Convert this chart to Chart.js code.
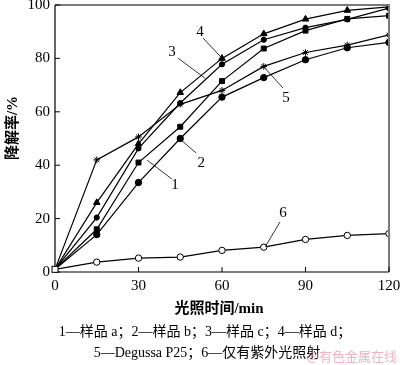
<!DOCTYPE html>
<html>
<head>
<meta charset="utf-8">
<script src="https://cdn.jsdelivr.net/npm/chart.js@4.4.1/dist/chart.umd.min.js"></script>
<style>
  html, body { margin: 0; padding: 0; background: #fff; }
  #chart { display: block; }
</style>
</head>
<body>
<canvas id="chart" width="400" height="365"></canvas>
<script>
// irradiation time (min)
const times = [0, 15, 30, 45, 60, 75, 90, 105, 120];

// degradation rate (%)
const sampleA = [1, 14, 33.5, 50, 65.5, 72.8, 79.5, 84, 86];
const sampleB = [1, 16, 41, 54.4, 71.5, 83.7, 90.4, 94.8, 96];
const sampleC = [1, 20.4, 46.3, 63.3, 77.8, 87, 91.5, 94.6, 98.8];
const sampleD = [1, 26, 48, 67.2, 80, 89.2, 94.7, 98, 99.3];
const degussa = [1, 42, 50.6, 62.8, 68, 77, 82.2, 85, 88.8];
const uvOnly = [1, 3.7, 5.2, 5.6, 8.1, 9.3, 12.2, 13.7, 14.4];

const xTicks = [0, 30, 60, 90, 120];
const yTicks = [0, 20, 40, 60, 80, 100];

// curve number labels with leader lines, in data units
const curveLabels = [
    { text: "1", at: [43.1, 32.6], from: [42.0, 34.8], to: [33.1, 41.9] },
    { text: "2", at: [52.5, 40.8], from: [50.7, 44.6], to: [44.9, 49.8] },
    { text: "3", at: [42.0, 82.4], from: [44.2, 80.1], to: [54.0, 72.5] },
    { text: "4", at: [52.1, 89.9], from: [53.2, 87.6], to: [59.6, 80.5] },
    { text: "5", at: [83.0, 65.2], from: [81.9, 68.9], to: [74.7, 77.2] },
    { text: "6", at: [81.9, 22.1], from: [80.8, 18.7], to: [75.5, 9.4] }
];

const serif = "'Liberation Serif', 'Noto Sans CJK SC', serif";

function points(values) {
    return times.map((t, i) => ({ x: t, y: values[i] }));
}

function series(values, style, radius, fill) {
    return {
        data: points(values),
        borderColor: "#000",
        borderWidth: 1.2,
        backgroundColor: fill,
        pointBackgroundColor: fill,
        pointBorderColor: "#000",
        pointBorderWidth: 1,
        pointStyle: style,
        pointRadius: ctx => ctx.dataIndex === 0 ? 0 : radius,
        tension: 0
    };
}

function noPadding(scale) {
    scale.paddingTop = 0;
    scale.paddingBottom = 0;
    scale.paddingLeft = 0;
    scale.paddingRight = 0;
}

const frame = {
    id: "frame",
    afterDraw(chart) {
        const c = chart.ctx;
        const a = chart.chartArea;
        const xs = chart.scales.x;
        const ys = chart.scales.y;
        c.save();

        // box
        c.strokeStyle = "#7a7a7a";
        c.lineWidth = 2;
        c.beginPath();
        c.moveTo(a.left, a.top);
        c.lineTo(a.right, a.top);
        c.lineTo(a.right, a.bottom);
        c.stroke();
        c.strokeStyle = "#000";
        c.lineWidth = 1.2;
        c.beginPath();
        c.moveTo(a.left, a.top);
        c.lineTo(a.left, a.bottom);
        c.lineTo(a.right, a.bottom);
        c.stroke();

        // inward ticks
        c.lineWidth = 1;
        c.beginPath();
        yTicks.forEach(v => {
            const y = ys.getPixelForValue(v);
            c.moveTo(a.left, y);
            c.lineTo(a.left + 5, y);
        });
        xTicks.forEach(v => {
            const x = xs.getPixelForValue(v);
            c.moveTo(x, a.bottom);
            c.lineTo(x, a.bottom - 5);
        });
        c.stroke();

        // origin marker
        const ox = xs.getPixelForValue(times[0]);
        const oy = ys.getPixelForValue(uvOnly[0]);
        c.fillStyle = "#fff";
        c.fillRect(ox - 3, oy - 3, 6, 6);
        c.strokeRect(ox - 3, oy - 3, 6, 6);

        // curve labels
        c.fillStyle = "#000";
        c.font = "15px " + serif;
        c.textAlign = "center";
        c.textBaseline = "middle";
        c.lineWidth = 0.8;
        curveLabels.forEach(l => {
            c.beginPath();
            c.moveTo(xs.getPixelForValue(l.from[0]), ys.getPixelForValue(l.from[1]));
            c.lineTo(xs.getPixelForValue(l.to[0]), ys.getPixelForValue(l.to[1]));
            c.stroke();
            c.fillText(l.text, xs.getPixelForValue(l.at[0]), ys.getPixelForValue(l.at[1]));
        });

        // axis titles and caption
        c.font = "bold 15px " + serif;
        c.fillText("光照时间/min", 219, 309);

        c.save();
        c.translate(13, 128);
        c.rotate(-Math.PI / 2);
        c.fillText("降解率/%", 0, 0);
        c.restore();

        c.font = "14px " + serif;
        c.fillText("1—样品 a；2—样品 b；3—样品 c；4—样品 d；", 205, 332);
        c.fillText("5—Degussa P25；6—仅有紫外光照射", 207, 353);

        c.fillStyle = "rgba(225, 150, 165, 0.7)";
        c.font = "13px 'Noto Sans CJK SC', sans-serif";
        c.textAlign = "right";
        c.fillText("@有色金属在线", 397, 356);

        c.restore();
    }
};

new Chart(document.getElementById("chart"), {
    type: "line",
    data: {
        datasets: [
            series(sampleA, "circle", 3.2, "#000"),
            series(sampleB, "rect", 3.5, "#000"),
            series(sampleC, "circle", 2.6, "#000"),
            series(sampleD, "triangle", 3.8, "#000"),
            series(degussa, "star", 3.3, "#000"),
            series(uvOnly, "circle", 3.2, "#fff")
        ]
    },
    options: {
        responsive: false,
        animation: false,
        devicePixelRatio: 1,
        layout: {
            padding: { top: 5, right: 11, left: 0, bottom: 0 }
        },
        plugins: {
            legend: { display: false },
            tooltip: { enabled: false }
        },
        scales: {
            x: {
                type: "linear",
                min: 0,
                max: 120,
                afterBuildTicks: scale => {
                    scale.ticks = xTicks.map(v => ({ value: v }));
                },
                afterFit: scale => {
                    scale.height = 93;
                    noPadding(scale);
                },
                grid: { display: false, drawTicks: false },
                border: { display: false },
                ticks: {
                    color: "#000",
                    padding: 5,
                    maxRotation: 0,
                    font: { family: serif, size: 15 }
                }
            },
            y: {
                min: 0,
                max: 100,
                afterBuildTicks: scale => {
                    scale.ticks = yTicks.map(v => ({ value: v }));
                },
                afterFit: scale => {
                    scale.width = 55;
                    noPadding(scale);
                },
                grid: { display: false, drawTicks: false },
                border: { display: false },
                ticks: {
                    color: "#000",
                    padding: 5,
                    font: { family: serif, size: 15 }
                }
            }
        }
    },
    plugins: [frame]
});
</script>
</body>
</html>
